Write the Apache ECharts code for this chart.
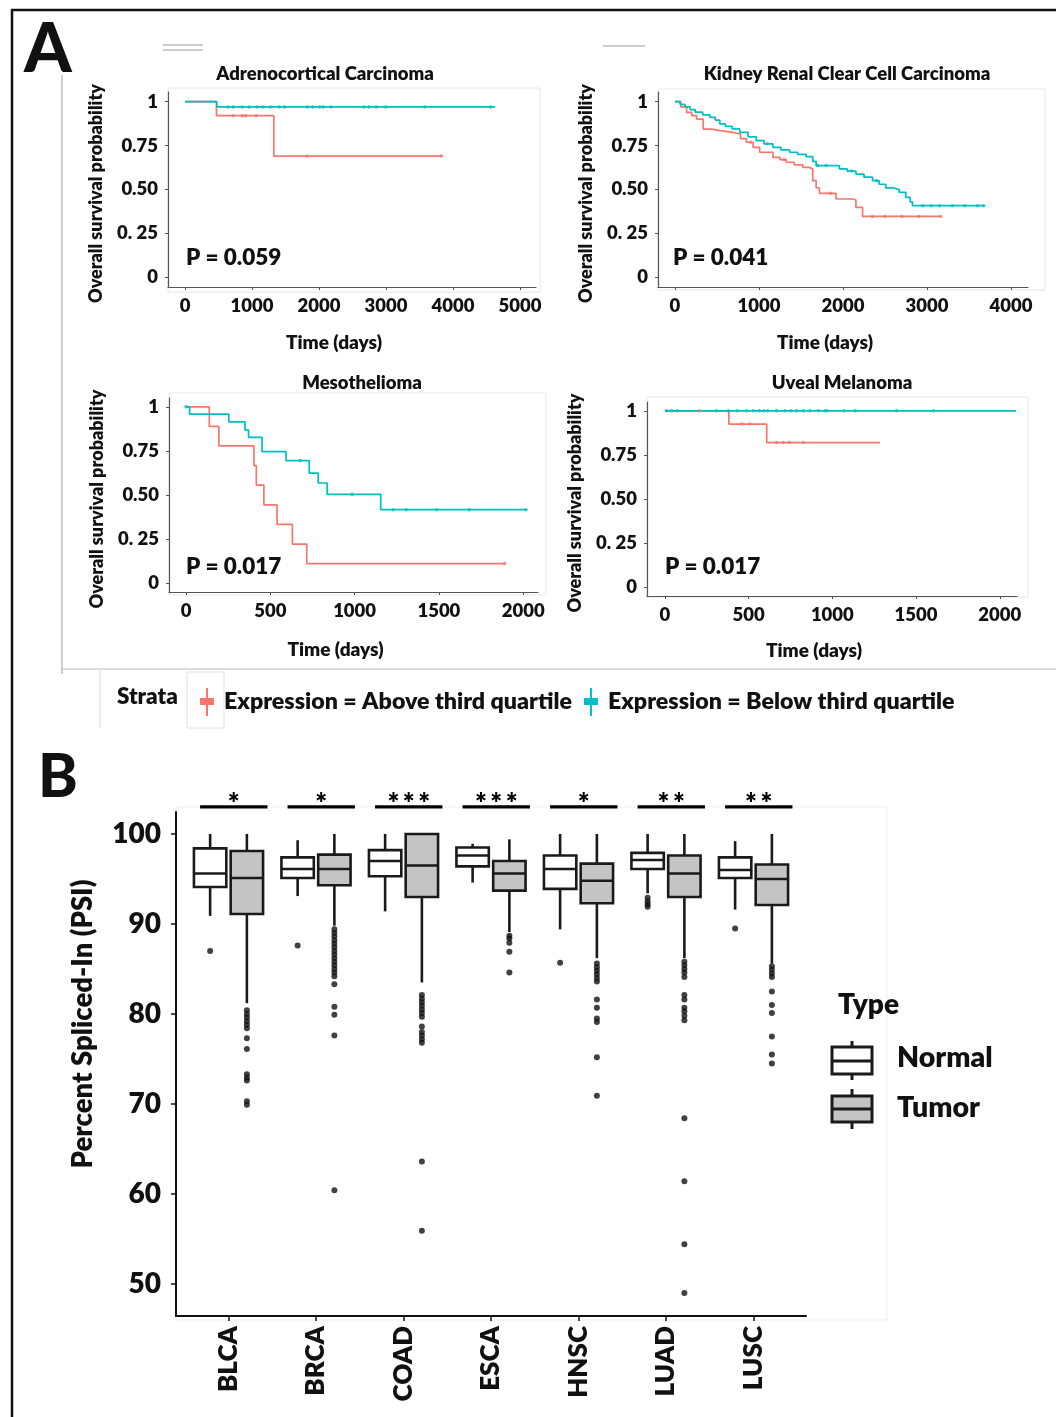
<!DOCTYPE html>
<html><head><meta charset="utf-8">
<script src="https://cdn.jsdelivr.net/npm/echarts@6/dist/echarts.min.js"></script>
<style>html,body{margin:0;padding:0;background:#fff}#c{width:1056px;height:1417px}</style>
</head><body><div id="c"></div>
<script>
// ---------------- DATA ----------------
const STRATA = ['Expression = Above third quartile', 'Expression = Below third quartile'];
const KM_TITLES = ['Adrenocortical Carcinoma', 'Kidney Renal Clear Cell Carcinoma', 'Mesothelioma', 'Uveal Melanoma'];
const P_VALUES = ['P = 0.059', 'P = 0.041', 'P = 0.017', 'P = 0.017'];
const KM_Y_TICKS = [0, 0.25, 0.5, 0.75, 1];
const KM_Y_LABELS = ['0', '0. 25', '0.50', '0.75', '1'];
const ACC_X_TICKS = [0, 1000, 2000, 3000, 4000, 5000];
const KIRC_X_TICKS = [0, 1000, 2000, 3000, 4000];
const MESO_X_TICKS = [0, 500, 1000, 1500, 2000];
const UVM_X_TICKS = [0, 500, 1000, 1500, 2000];

// Kaplan-Meier step points [days, survival]
const ACC_HIGH = [[0,1],[470,0.92],[1326,0.69],[3842,0.69]];
const ACC_LOW = [[0,1],[474,0.97],[4632,0.97]];
const ACC_HIGH_CENSOR = [[721,0.92],[853,0.92],[905,0.92],[1063,0.92],[1826,0.69],[3826,0.69]];
const ACC_LOW_CENSOR = [[642,0.97],[721,0.97],[853,0.97],[958,0.97],[1074,0.97],[1158,0.97],[1274,0.97],[1405,0.97],[1484,0.97],[1826,0.97],[1905,0.97],[2011,0.97],[2063,0.97],[2179,0.97],[2668,0.97],[2747,0.97],[2853,0.97],[2999,0.97],[3579,0.97],[4563,0.97]];

const KIRC_HIGH = [[0,1],[70,0.97],[138,0.939],[200,0.92],[257,0.901],[336,0.844],[440,0.835],[534,0.825],[692,0.816],[780,0.79],[850,0.769],[930,0.74],[1008,0.712],[1166,0.683],[1250,0.67],[1324,0.655],[1420,0.64],[1522,0.626],[1601,0.617],[1640,0.55],[1680,0.51],[1719,0.478],[1877,0.478],[1917,0.446],[2115,0.44],[2154,0.398],[2233,0.347],[3162,0.347]];
const KIRC_LOW = [[0,1],[60,0.985],[120,0.97],[180,0.955],[240,0.94],[330,0.925],[415,0.911],[480,0.895],[534,0.873],[600,0.86],[680,0.845],[771,0.825],[870,0.8],[968,0.778],[1060,0.76],[1166,0.74],[1260,0.725],[1364,0.712],[1460,0.7],[1561,0.687],[1640,0.66],[1680,0.636],[1877,0.636],[1957,0.617],[2050,0.605],[2154,0.588],[2250,0.57],[2352,0.55],[2430,0.53],[2510,0.509],[2600,0.5],[2668,0.484],[2747,0.455],[2800,0.43],[2826,0.408],[3676,0.408]];
const KIRC_HIGH_CENSOR = [[900,0.769],[1300,0.67],[1850,0.478],[2350,0.347],[2500,0.347],[2700,0.347],[2900,0.347],[3162,0.347]];
const KIRC_LOW_CENSOR = [[1100,0.76],[1700,0.636],[1800,0.636],[2100,0.605],[2400,0.55],[2950,0.408],[3050,0.408],[3150,0.408],[3300,0.408],[3450,0.408],[3600,0.408],[3676,0.408]];

const MESO_HIGH = [[0,1],[138,0.889],[195,0.778],[403,0.667],[417,0.556],[462,0.444],[540,0.333],[631,0.222],[716,0.111],[1890,0.111]];
const MESO_LOW = [[0,1],[21,0.959],[254,0.915],[350,0.868],[371,0.827],[451,0.746],[593,0.695],[731,0.624],[784,0.568],[837,0.504],[1155,0.417],[2017,0.417]];
const MESO_HIGH_CENSOR = [[1890,0.111]];
const MESO_LOW_CENSOR = [[0,1],[678,0.695],[985,0.504],[1229,0.417],[1307,0.417],[1487,0.417],[1680,0.417],[2017,0.417]];

const UVM_HIGH = [[0,1],[382,0.925],[608,0.82],[1285,0.82]];
const UVM_LOW = [[0,1],[2098,1]];
const UVM_HIGH_CENSOR = [[205,1],[462,0.925],[508,0.925],[667,0.82],[707,0.82],[743,0.82],[827,0.82]];
const UVM_LOW_CENSOR = [[10,1],[40,1],[74,1],[309,1],[378,1],[432,1],[488,1],[528,1],[564,1],[592,1],[614,1],[667,1],[717,1],[751,1],[787,1],[827,1],[867,1],[917,1],[956,1],[970,1],[1070,1],[1136,1],[1384,1],[1603,1]];

// Panel B: PSI box plots [lowerWhisker, Q1, median, Q3, upperWhisker]
const CATEGORIES = ['BLCA', 'BRCA', 'COAD', 'ESCA', 'HNSC', 'LUAD', 'LUSC'];
const PSI_TICKS = [50, 60, 70, 80, 90, 100];
const SIG = ['*', '*', '***', '***', '*', '**', '**'];
const NORMAL_BOX = [
  [90.9, 94.1, 95.6, 98.4, 100],
  [93.1, 95.1, 96.1, 97.4, 99.3],
  [91.4, 95.3, 97.0, 98.2, 100],
  [94.6, 96.4, 97.6, 98.5, 98.9],
  [89.4, 93.9, 96.1, 97.6, 100],
  [93.4, 96.1, 97.1, 97.9, 100],
  [91.6, 95.1, 96.0, 97.4, 99.2]
];
const TUMOR_BOX = [
  [81.2, 91.1, 95.1, 98.1, 100],
  [89.8, 94.3, 96.1, 97.7, 100],
  [83.5, 93.0, 96.5, 100, 100],
  [89.1, 93.7, 95.6, 97.0, 99.4],
  [86.2, 92.3, 94.8, 96.7, 100],
  [86.2, 93.0, 95.6, 97.6, 100],
  [85.6, 92.1, 95.0, 96.6, 100]
];
const NORMAL_OUTLIERS = [[87.0], [87.6], [], [], [85.7], [92.9, 92.5, 92.2, 91.9], [89.5]];
const TUMOR_OUTLIERS = [
  [80.4, 80.0, 79.6, 79.2, 78.8, 78.4, 77.3, 76.1, 73.3, 72.9, 72.6, 70.3, 69.9],
  [89.4, 89.0, 88.6, 88.2, 87.8, 87.4, 87.0, 86.6, 86.2, 85.8, 85.4, 85.0, 84.6, 84.2, 83.3, 80.8, 79.9, 77.6, 60.4],
  [82.1, 81.7, 81.3, 80.9, 80.5, 80.1, 79.7, 78.6, 78.0, 77.6, 77.2, 76.8, 63.6, 55.9],
  [88.7, 88.4, 87.9, 86.9, 84.6],
  [85.6, 85.2, 84.8, 84.4, 84.0, 83.6, 81.6, 80.7, 79.5, 79.1, 75.2, 70.9],
  [85.8, 85.4, 85.0, 84.6, 84.1, 82.1, 81.6, 80.7, 80.3, 79.8, 79.3, 68.4, 61.4, 54.4, 49.0],
  [85.3, 84.9, 84.5, 84.1, 82.5, 81.0, 80.1, 77.5, 75.5, 74.5]
];

// ---------------- STYLE / LAYOUT ----------------
const RED = '#F8766D', TEAL = '#00BFC4';
const FONT = 'Lato, "Open Sans", "DejaVu Sans", sans-serif';
const W = 800; // heavy weight
const KM_PANELS = [
  {left:168, top:92, width:368, height:195, xmin:-254, xmax:5240, ymin:-0.055, ymax:1.055, xticks:ACC_X_TICKS, xgap:46, high:ACC_HIGH, low:ACC_LOW, hc:ACC_HIGH_CENSOR, lc:ACC_LOW_CENSOR},
  {left:658, top:92, width:370, height:195, xmin:-202, xmax:4202, ymin:-0.055, ymax:1.055, xticks:KIRC_X_TICKS, xgap:46, high:KIRC_HIGH, low:KIRC_LOW, hc:KIRC_HIGH_CENSOR, lc:KIRC_LOW_CENSOR},
  {left:169, top:398, width:369, height:194, xmin:-101, xmax:2088, ymin:-0.05, ymax:1.05, xticks:MESO_X_TICKS, xgap:48, high:MESO_HIGH, low:MESO_LOW, hc:MESO_HIGH_CENSOR, lc:MESO_LOW_CENSOR},
  {left:647, top:402, width:370, height:194, xmin:-107, xmax:2103, ymin:-0.05, ymax:1.05, xticks:UVM_X_TICKS, xgap:45, high:UVM_HIGH, low:UVM_LOW, hc:UVM_HIGH_CENSOR, lc:UVM_LOW_CENSOR}
];
const DODGE = 0.21, BOX_W = 0.37;

const grid = [], xAxis = [], yAxis = [], series = [];
KM_PANELS.forEach((p, i) => {
  grid.push({left:p.left, top:p.top, width:p.width, height:p.height, outerBoundsMode:'none'});
  xAxis.push({type:'value', gridIndex:i, min:p.xmin, max:p.xmax,
    name:'Time (days)', nameLocation:'middle', nameGap:p.xgap,
    nameTextStyle:{fontFamily:FONT, fontSize:19, fontWeight:W, color:'#111', padding:[0,36,0,0]},
    axisLine:{show:true, onZero:false, lineStyle:{color:'#555', width:1.2}},
    axisTick:{show:true, customValues:p.xticks, length:3, lineStyle:{color:'#555'}},
    axisLabel:{customValues:p.xticks, formatter:v=>String(v), fontFamily:FONT, fontSize:18.5, fontWeight:W, color:'#111', margin:10},
    splitLine:{show:false}});
  yAxis.push({type:'value', gridIndex:i, min:p.ymin, max:p.ymax,
    name:'Overall survival probability', nameLocation:'middle', nameGap:63, nameRotate:90,
    nameTextStyle:{fontFamily:FONT, fontSize:18, fontWeight:W, color:'#111', padding:[0,8,0,0]},
    axisLine:{show:true, onZero:false, lineStyle:{color:'#555', width:1.2}},
    axisTick:{show:true, customValues:KM_Y_TICKS, length:3, lineStyle:{color:'#555'}},
    axisLabel:{customValues:KM_Y_TICKS, formatter:v=>KM_Y_LABELS[KM_Y_TICKS.indexOf(v)], fontFamily:FONT, fontSize:18.5, fontWeight:W, color:'#111', margin:10},
    splitLine:{show:false}});
  const mk = (data, cens, color, name) => {
    series.push({type:'line', name, xAxisIndex:i, yAxisIndex:i, data, step:'end', showSymbol:false, symbol:'none',
      lineStyle:{color, width:1.7}, itemStyle:{color}, z:3});
    series.push({type:'scatter', name, xAxisIndex:i, yAxisIndex:i, data:cens, symbol:'circle', symbolSize:3.5,
      itemStyle:{color}, z:4});
  };
  mk(p.high, p.hc, RED, STRATA[0]);
  mk(p.low, p.lc, TEAL, STRATA[1]);
});

// Panel B grid
grid.push({left:176, top:812, width:630, height:504, outerBoundsMode:'none'});
xAxis.push({type:'value', gridIndex:4, min:0.4, max:7.6,
  axisLine:{show:true, onZero:false, lineStyle:{color:'#111', width:2}},
  axisTick:{show:true, customValues:[1,2,3,4,5,6,7], length:5, lineStyle:{color:'#111', width:1.5}},
  axisLabel:{customValues:[1,2,3,4,5,6,7], formatter:v=>CATEGORIES[Math.round(v)-1], rotate:90, fontFamily:FONT, fontSize:26, fontWeight:W, color:'#111', margin:10},
  splitLine:{show:false}});
yAxis.push({type:'value', gridIndex:4, min:46.44, max:102.44,
  name:'Percent Spliced-In (PSI)', nameLocation:'middle', nameGap:79, nameRotate:90,
  nameTextStyle:{fontFamily:FONT, fontSize:27.5, fontWeight:W, color:'#111', padding:[0,0,0,80]},
  axisLine:{show:true, onZero:false, lineStyle:{color:'#111', width:2}},
  axisTick:{show:true, customValues:PSI_TICKS, length:5, lineStyle:{color:'#111', width:1.5}},
  axisLabel:{customValues:PSI_TICKS, formatter:v=>String(v), fontFamily:FONT, fontSize:28, fontWeight:W, color:'#111', margin:15},
  splitLine:{show:false}});

function boxRenderer(fill) {
  return function (params, api) {
    const x = api.value(0), lo = api.value(1), q1 = api.value(2), med = api.value(3), q3 = api.value(4), hi = api.value(5);
    const h = BOX_W / 2;
    const tl = api.coord([x - h, q3]), br = api.coord([x + h, q1]);
    const md = api.coord([x, med]), top = api.coord([x, hi]), bot = api.coord([x, lo]);
    const st = {stroke:'#1a1a1a', lineWidth:2.6};
    return {type:'group', children:[
      {type:'line', shape:{x1:top[0], y1:top[1], x2:top[0], y2:tl[1]}, style:st},
      {type:'line', shape:{x1:bot[0], y1:br[1], x2:bot[0], y2:bot[1]}, style:st},
      {type:'rect', shape:{x:tl[0], y:tl[1], width:br[0]-tl[0], height:br[1]-tl[1]}, style:{fill, stroke:'#1a1a1a', lineWidth:2.6}},
      {type:'line', shape:{x1:tl[0], y1:md[1], x2:br[0], y2:md[1]}, style:st}
    ]};
  };
}
series.push({type:'custom', name:'Normal', xAxisIndex:4, yAxisIndex:4, renderItem:boxRenderer('#ffffff'),
  data:NORMAL_BOX.map((b, i) => [i + 1 - DODGE, ...b]), z:3});
series.push({type:'custom', name:'Tumor', xAxisIndex:4, yAxisIndex:4, renderItem:boxRenderer('#c4c4c4'),
  data:TUMOR_BOX.map((b, i) => [i + 1 + DODGE, ...b]), z:3});
series.push({type:'scatter', xAxisIndex:4, yAxisIndex:4, symbolSize:6, itemStyle:{color:'#111'}, z:4,
  data:NORMAL_OUTLIERS.flatMap((arr, i) => arr.map(v => [i + 1 - DODGE, v]))});
series.push({type:'scatter', xAxisIndex:4, yAxisIndex:4, symbolSize:6, itemStyle:{color:'#111'}, z:4,
  data:TUMOR_OUTLIERS.flatMap((arr, i) => arr.map(v => [i + 1 + DODGE, v]))});
// significance bars
series.push({type:'custom', xAxisIndex:4, yAxisIndex:4, clip:false, z:5,
  data:SIG.map((s, i) => [i + 1, 103]),
  renderItem:function (params, api) {
    const x = api.value(0) + 0.06, yv = api.value(1);
    const a = api.coord([x - 0.385, yv]), b = api.coord([x + 0.385, yv]), t = api.coord([x, yv + 0.35]);
    return {type:'group', children:[
      {type:'line', shape:{x1:a[0], y1:a[1], x2:b[0], y2:b[1]}, style:{stroke:'#000', lineWidth:3.2}},
      {type:'text', x:t[0], y:t[1], style:{text:SIG[params.dataIndex].split('').join('\u2009'), font:W + ' 28px ' + FONT, fill:'#000', align:'center', verticalAlign:'middle'}}
    ]};
  }});

// ---------------- GRAPHICS (frame, titles, labels) ----------------
const T = (text, x, y, size, opts) => Object.assign({type:'text', x, y, style:Object.assign({text, font:W + ' ' + size + 'px ' + FONT, fill:'#111', align:'left', verticalAlign:'middle'}, opts || {})});
const L = (x1, y1, x2, y2, stroke, w) => ({type:'line', shape:{x1, y1, x2, y2}, style:{stroke, lineWidth:w}});
const R = (x, y, w, h, stroke) => ({type:'rect', shape:{x, y, width:w, height:h}, style:{fill:'none', stroke, lineWidth:1}});
const graphic = [
  {type:'rect', shape:{x:12, y:10, width:1100, height:1450}, style:{fill:'none', stroke:'#111', lineWidth:2.5}},
  L(62, 75, 62, 674, '#bdbdbd', 1.5),
  L(62, 669, 1056, 669, '#cfcfcf', 1.5),
  L(100, 669, 100, 728, '#dddddd', 1.2),
  R(187, 672, 37, 56, '#e2e2e2'),
  L(163, 45, 203, 45, '#bbbbbb', 1.5), L(163, 50, 203, 50, '#bbbbbb', 1.5),
  L(603, 46, 645, 46, '#bbbbbb', 1.5),
  R(168, 88, 372, 204, '#e6e6e6'), R(658, 89, 387, 201, '#e6e6e6'),
  R(169, 393, 377, 202, '#e6e6e6'), R(647, 397, 381, 200, '#e6e6e6'),
  R(176, 807, 711, 513, '#efefef'),
  T('A', 24, 50, 68, {font:'900 68px ' + FONT}),
  T('B', 38, 778, 60, {font:'900 60px ' + FONT}),
  T(KM_TITLES[0], 325, 74, 18.5, {align:'center'}),
  T(KM_TITLES[1], 847, 74, 18.5, {align:'center'}),
  T(KM_TITLES[2], 362, 383, 18.5, {align:'center'}),
  T(KM_TITLES[3], 842, 383, 18.5, {align:'center'}),
  T(P_VALUES[0], 186, 258, 22.5), T(P_VALUES[1], 673, 258, 22.5),
  T(P_VALUES[2], 186, 567, 22.5), T(P_VALUES[3], 665, 567, 22.5),
  T('Strata', 117, 697, 22.5),
  T('Type', 838, 1005, 28),
  // Type legend glyphs
  L(852, 1041, 852, 1080, '#1a1a1a', 3),
  {type:'rect', shape:{x:832, y:1047, width:40, height:27}, style:{fill:'#fff', stroke:'#1a1a1a', lineWidth:3}},
  L(832, 1061, 872, 1061, '#1a1a1a', 3),
  L(852, 1089, 852, 1129, '#1a1a1a', 3),
  {type:'rect', shape:{x:832, y:1096, width:40, height:26}, style:{fill:'#c4c4c4', stroke:'#1a1a1a', lineWidth:3}},
  L(832, 1109, 872, 1109, '#1a1a1a', 3),
  T('Normal', 897, 1058, 28.5),
  T('Tumor', 897, 1108, 28.5)
];

const chart = echarts.init(document.getElementById('c'), null, {renderer:'canvas'});
chart.setOption({
  animation:false,
  backgroundColor:'#fff',
  textStyle:{fontFamily:FONT},
  grid, xAxis, yAxis, series, graphic,
  legend:{left:195, top:683, orient:'horizontal', itemWidth:14, itemHeight:28, itemGap:12,
    textStyle:{fontFamily:FONT, fontSize:23.2, fontWeight:W, color:'#111', padding:[0,0,0,5]},
    selectedMode:false,
    data:[
      {name:STRATA[0], icon:'path://M0,10L14,10L14,17L0,17Z M6,0L8,0L8,28L6,28Z', itemStyle:{color:RED}},
      {name:STRATA[1], icon:'path://M0,10L14,10L14,17L0,17Z M6,0L8,0L8,28L6,28Z', itemStyle:{color:TEAL}}
    ]}
});
</script></body></html>
